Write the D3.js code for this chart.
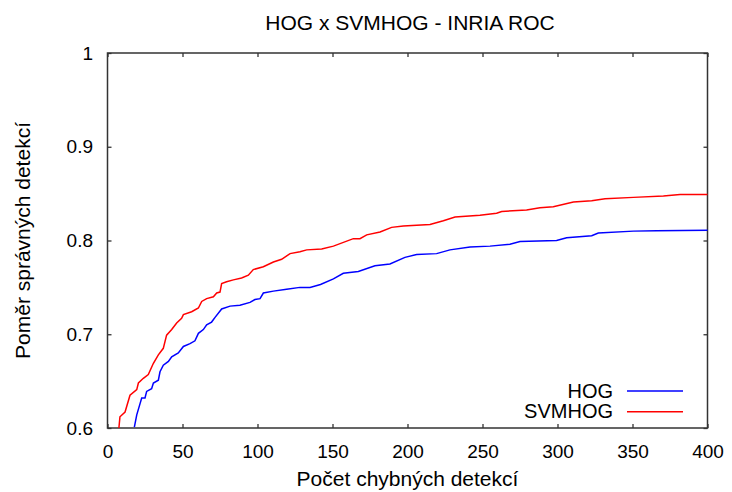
<!DOCTYPE html>
<html>
<head>
<meta charset="utf-8">
<script src="https://cdn.jsdelivr.net/npm/d3@7"></script>
<style>
  body { margin: 0; background: #fff; }
  text { font-family: "Liberation Sans", Arial, sans-serif; fill: #000; }
</style>
</head>
<body>
<script>
const width = 732, height = 492;
const margin = { top: 53, right: 24.5, bottom: 64, left: 107.5 };

// data: [false detections, detection rate]
const hogPoints = [
    [17.9, 0.601], [19.5, 0.614], [21.7, 0.626], [22.8, 0.632], [25, 0.632], [26.1, 0.639],
    [29.4, 0.642], [30.6, 0.648], [33.9, 0.651], [35, 0.660], [37.2, 0.667], [40.6, 0.671],
    [42.8, 0.676], [47.2, 0.680], [50.6, 0.687], [55, 0.690], [58.3, 0.693], [60.6, 0.701],
    [63.9, 0.705], [66.1, 0.710], [69.4, 0.713], [71.7, 0.718], [76.1, 0.727], [81.7, 0.730],
    [88.3, 0.731], [95, 0.734], [98.3, 0.737], [101.7, 0.738], [103.9, 0.744], [110.6, 0.746],
    [119.4, 0.748], [128.3, 0.750], [135, 0.750], [142, 0.753], [150.6, 0.759], [157.2, 0.765],
    [167.2, 0.767], [178.3, 0.773], [188.3, 0.775], [198.3, 0.782], [206.1, 0.785], [219.4, 0.786],
    [228.3, 0.790], [241.7, 0.793], [255, 0.794], [268.3, 0.796], [275, 0.799], [299.4, 0.800],
    [306.1, 0.803], [322.8, 0.805], [327.2, 0.808], [350.6, 0.810], [366.1, 0.8105], [400, 0.811]
];
const svmhogPoints = [
    [7.6, 0.600], [8.3, 0.612], [11.7, 0.617], [15, 0.635], [19.5, 0.641], [20.6, 0.648],
    [23.9, 0.653], [27.2, 0.657], [30.6, 0.669], [33.9, 0.678], [37.2, 0.685], [39.4, 0.699],
    [42.8, 0.705], [46.1, 0.712], [49.4, 0.717], [50.6, 0.721], [56.1, 0.724], [60.6, 0.728],
    [62.8, 0.735], [66.1, 0.738], [70.6, 0.740], [72.8, 0.744], [75, 0.745], [76.1, 0.754],
    [79.4, 0.756], [83.9, 0.758], [89.4, 0.760], [93.9, 0.763], [97.2, 0.769], [103.9, 0.772],
    [110.6, 0.777], [116.1, 0.780], [121.7, 0.786], [128.3, 0.788], [132.8, 0.790], [142.8, 0.791],
    [150.6, 0.794], [163.9, 0.802], [168.3, 0.802], [172.8, 0.806], [181.7, 0.809], [189.4, 0.814],
    [197.2, 0.8155], [215, 0.817], [223.9, 0.821], [231.7, 0.825], [248.3, 0.827], [259.4, 0.829],
    [262.8, 0.831], [279.4, 0.8325], [288.3, 0.835], [297.2, 0.836], [310.6, 0.841], [322.8, 0.8425],
    [331.7, 0.8445], [350.6, 0.846], [370.6, 0.8475], [381.7, 0.849], [400, 0.849]
];
const seriesNames = ["HOG", "SVMHOG"];
const seriesColors = ["#0000ff", "#ff0000"];
const xTicks = [0, 50, 100, 150, 200, 250, 300, 350, 400];
const yTicks = [0.6, 0.7, 0.8, 0.9, 1];

const svg = d3.select("body").append("svg")
    .attr("width", width)
    .attr("height", height);

const x = d3.scaleLinear().domain([0, 400]).range([margin.left, width - margin.right]);
const y = d3.scaleLinear().domain([0.6, 1]).range([height - margin.bottom, margin.top]);

const tickLen = 4;

// axes with inward ticks, mirrored on top and right
svg.append("g")
    .attr("transform", `translate(0,${y(0.6)})`)
    .call(d3.axisBottom(x).tickValues(xTicks).tickSize(-tickLen).tickPadding(16.5).tickFormat(d3.format("d")))
    .call(g => g.select(".domain").remove());
svg.append("g")
    .attr("transform", `translate(0,${y(1)})`)
    .call(d3.axisTop(x).tickValues(xTicks).tickSize(-tickLen).tickFormat(""))
    .call(g => g.select(".domain").remove());
svg.append("g")
    .attr("transform", `translate(${x(0)},0)`)
    .call(d3.axisLeft(y).tickValues(yTicks).tickSize(-tickLen).tickPadding(14.5).tickFormat(d => d === 1 ? "1" : d3.format(".1f")(d)))
    .call(g => g.select(".domain").remove());
svg.append("g")
    .attr("transform", `translate(${x(400)},0)`)
    .call(d3.axisRight(y).tickValues(yTicks).tickSize(-tickLen).tickFormat(""))
    .call(g => g.select(".domain").remove());

svg.selectAll(".tick line").attr("stroke", "#333").attr("stroke-width", 1.3);
svg.selectAll(".tick text").attr("font-size", 19).attr("font-family", "Liberation Sans, Arial, sans-serif").attr("fill", "#000");

// plot border
svg.append("rect")
    .attr("x", x(0)).attr("y", y(1))
    .attr("width", x(400) - x(0)).attr("height", y(0.6) - y(1))
    .attr("fill", "none").attr("stroke", "#333").attr("stroke-width", 1.5);

const line = d3.line().x(d => x(d[0])).y(d => y(d[1]));

[hogPoints, svmhogPoints].forEach((pts, i) => {
    svg.append("path")
        .datum(pts)
        .attr("fill", "none")
        .attr("stroke", seriesColors[i])
        .attr("stroke-width", 1.5)
        .attr("d", line);
});

// legend
const legend = svg.append("g");
seriesNames.forEach((name, i) => {
    const ly = 391 + i * 20.8;
    legend.append("text")
        .attr("x", 613).attr("y", ly + 6.5)
        .attr("text-anchor", "end")
        .attr("font-size", 20)
        .text(name);
    legend.append("line")
        .attr("x1", 627).attr("x2", 683)
        .attr("y1", ly).attr("y2", ly)
        .attr("stroke", seriesColors[i]).attr("stroke-width", 1.5);
});

// title and axis labels
svg.append("text")
    .attr("x", 410).attr("y", 30)
    .attr("text-anchor", "middle").attr("font-size", 21)
    .text("HOG x SVMHOG - INRIA ROC");
svg.append("text")
    .attr("x", (x(0) + x(400)) / 2).attr("y", 486)
    .attr("text-anchor", "middle").attr("font-size", 21)
    .text("Počet chybných detekcí");
svg.append("text")
    .attr("transform", `translate(30,${(y(0.6) + y(1)) / 2}) rotate(-90)`)
    .attr("text-anchor", "middle").attr("font-size", 21)
    .text("Poměr správných detekcí");
</script>
</body>
</html>
